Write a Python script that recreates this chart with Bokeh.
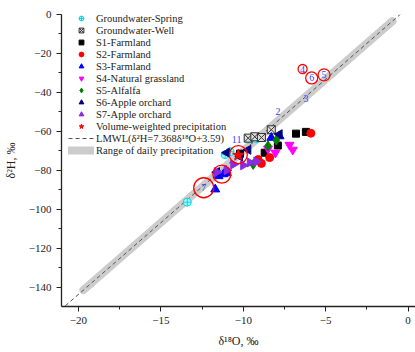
from bokeh.plotting import figure
from bokeh.models import Range1d, Legend, LegendItem, FixedTicker
from bokeh.embed import file_html
from bokeh.resources import INLINE
from bokeh.core.properties import value

# ---- data ----
spring_x = [-9.7, -9.2, -10.8, -11.1, -13.4]
spring_y = [-64.0, -63.8, -70.5, -72.0, -96.4]

well_x = [-9.7, -9.3, -8.9, -8.3]
well_y = [-63.5, -62.8, -63.2, -59.2]

s1_x = [-6.8, -6.2, -7.9, -8.7, -10.2]
s1_y = [-61.2, -60.3, -67.3, -71.0, -71.5]

s2_x = [-5.9, -8.4, -8.9, -9.1]
s2_y = [-61.0, -73.5, -76.5, -74.5]

s3_x = [-8.3, -7.8, -11.2, -11.5, -11.0, -11.7]
s3_y = [-63.3, -62.5, -82.0, -83.0, -81.5, -89.8]

s4_x = [-7.2, -7.0, -8.05, -8.5]
s4_y = [-67.0, -69.5, -71.0, -69.0]

s5_x = [-8.5, -8.0, -9.4]
s5_y = [-67.5, -64.5, -77.0]

s6_x = [-7.8, -9.7, -11.0, -10.2, -11.6]
s6_y = [-61.5, -69.5, -71.0, -73.0, -81.0]

s7_x = [-9.2, -9.6, -10.6, -11.6, -10.0, -11.0]
s7_y = [-75.5, -76.0, -77.0, -81.0, -77.5, -80.0]

vwp_x = [-10.3]
vwp_y = [-72.3]

lmwl_slope = 7.368
lmwl_intercept = 3.59
lmwl_x = [-20.8, -0.45]
band_x = [-19.7, -0.95]

circ_x = [-6.4, -5.85, -5.1, -10.3, -11.3, -12.4]
circ_y = [-28.0, -32.6, -31.0, -72.0, -82.0, -89.0]
circ_size = [9, 12, 12, 18, 18, 20]

num_x = [-7.9, -6.2, -6.4, -5.1, -5.85, -12.4, -10.4]
num_y = [-50.0, -43.0, -28.0, -31.0, -32.6, -89.0, -64.0]
num_text = ["2", "3", "4", "5", "6", "7", "11"]

x_ticks = [-20, -15, -10, -5, 0]
x_minor = [-17.5, -12.5, -7.5, -2.5]
y_ticks = [-140, -120, -100, -80, -60, -40, -20, 0]
y_minor = [-130, -110, -90, -70, -50, -30, -10]

SERIF = "Liberation Serif"

p = figure(width=415, height=350, output_backend="svg", toolbar_location=None,
           x_range=Range1d(-21.03, 0.45), y_range=Range1d(-150, 0),
           min_border_left=57, min_border_right=0, min_border_top=14, min_border_bottom=42)
p.outline_line_color = None
p.grid.grid_line_color = None
p.background_fill_color = "white"

for ax in (p.xaxis[0], p.yaxis[0]):
    ax.major_tick_out = 5
    ax.major_tick_in = 0
    ax.minor_tick_out = 3
    ax.minor_tick_in = 0
    ax.axis_line_color = "#222222"
    ax.axis_line_width = 1.3
    ax.major_tick_line_color = "#222222"
    ax.minor_tick_line_color = "#222222"
    ax.major_label_text_font = SERIF
    ax.major_label_text_font_size = "11px"
    ax.major_label_text_color = "#222222"
    ax.axis_label_text_font = SERIF
    ax.axis_label_text_font_size = "12px"
    ax.axis_label_text_font_style = "normal"
    ax.axis_label_text_color = "#222222"

p.xaxis.ticker = FixedTicker(ticks=x_ticks, minor_ticks=x_minor)
p.yaxis.ticker = FixedTicker(ticks=y_ticks, minor_ticks=y_minor)
p.xaxis.axis_label = "δ¹⁸O, ‰"
p.yaxis.axis_label = "δ²H, ‰"
p.xaxis.axis_label_standoff = 7
p.yaxis.axis_label_standoff = 8

# band and LMWL
band_y = [lmwl_slope * v + lmwl_intercept for v in band_x]
lmwl_y = [lmwl_slope * v + lmwl_intercept for v in lmwl_x]
r_band = p.line(band_x, band_y, line_width=8, line_color="#cccccc", line_cap="round")
r_lmwl = p.line(lmwl_x, lmwl_y, line_width=1, line_color="#555555", line_dash="4 3")

# points
r_spring = p.scatter(spring_x, spring_y, marker="circle_cross", size=8,
                     line_color="#00d8e8", fill_color="#b8f4f8", line_width=1)
r_well = p.scatter(well_x, well_y, marker="square_x", size=8,
                   line_color="#333333", fill_color="#dddddd", line_width=1)
r_s1 = p.scatter(s1_x, s1_y, marker="square", size=7, color="black")
r_s2 = p.scatter(s2_x, s2_y, marker="circle", size=8, color="red")
r_s3 = p.scatter(s3_x, s3_y, marker="triangle", size=9, color="#0000ff")
r_s4 = p.scatter(s4_x, s4_y, marker="inverted_triangle", size=9, color="#ff00ff")
r_s5 = p.scatter(s5_x, s5_y, marker="diamond", size=10, color="#008000")
r_s6 = p.scatter(s6_x, s6_y, marker="triangle", angle=1.5708, size=9, color="#000080")
r_s7 = p.scatter(s7_x, s7_y, marker="triangle", angle=-1.5708, size=9, color="#8a2be2")
r_vwp = p.scatter(vwp_x, vwp_y, marker="star", size=12, color="red")

# numbered circles
p.scatter(circ_x, circ_y, size=circ_size, marker="circle", fill_alpha=0,
          line_color="red", line_width=1.3)
p.text(num_x, num_y, text=num_text, text_font=value(SERIF), text_font_size="10px",
       text_color="#3344ff", text_align="center", text_baseline="middle")

items = [
    LegendItem(label="Groundwater-Spring", renderers=[r_spring]),
    LegendItem(label="Groundwater-Well", renderers=[r_well]),
    LegendItem(label="S1-Farmland", renderers=[r_s1]),
    LegendItem(label="S2-Farmland", renderers=[r_s2]),
    LegendItem(label="S3-Farmland", renderers=[r_s3]),
    LegendItem(label="S4-Natural grassland", renderers=[r_s4]),
    LegendItem(label="S5-Alfalfa", renderers=[r_s5]),
    LegendItem(label="S6-Apple orchard", renderers=[r_s6]),
    LegendItem(label="S7-Apple orchard", renderers=[r_s7]),
    LegendItem(label="Volume-weighted precipitation", renderers=[r_vwp]),
    LegendItem(label="LMWL(δ²H=7.368δ¹⁸O+3.59)", renderers=[r_lmwl]),
    LegendItem(label="Range of daily precipitation", renderers=[r_band]),
]
legend = Legend(items=items, location=(7, 150), padding=0, margin=0, spacing=0,
                glyph_width=26, glyph_height=12, label_height=12, label_standoff=2,
                label_text_font=SERIF, label_text_font_size="10.5px",
                label_text_color="#222222",
                border_line_color=None, background_fill_alpha=0)
p.add_layout(legend)

open("out.html", "w").write(file_html(p, INLINE))
